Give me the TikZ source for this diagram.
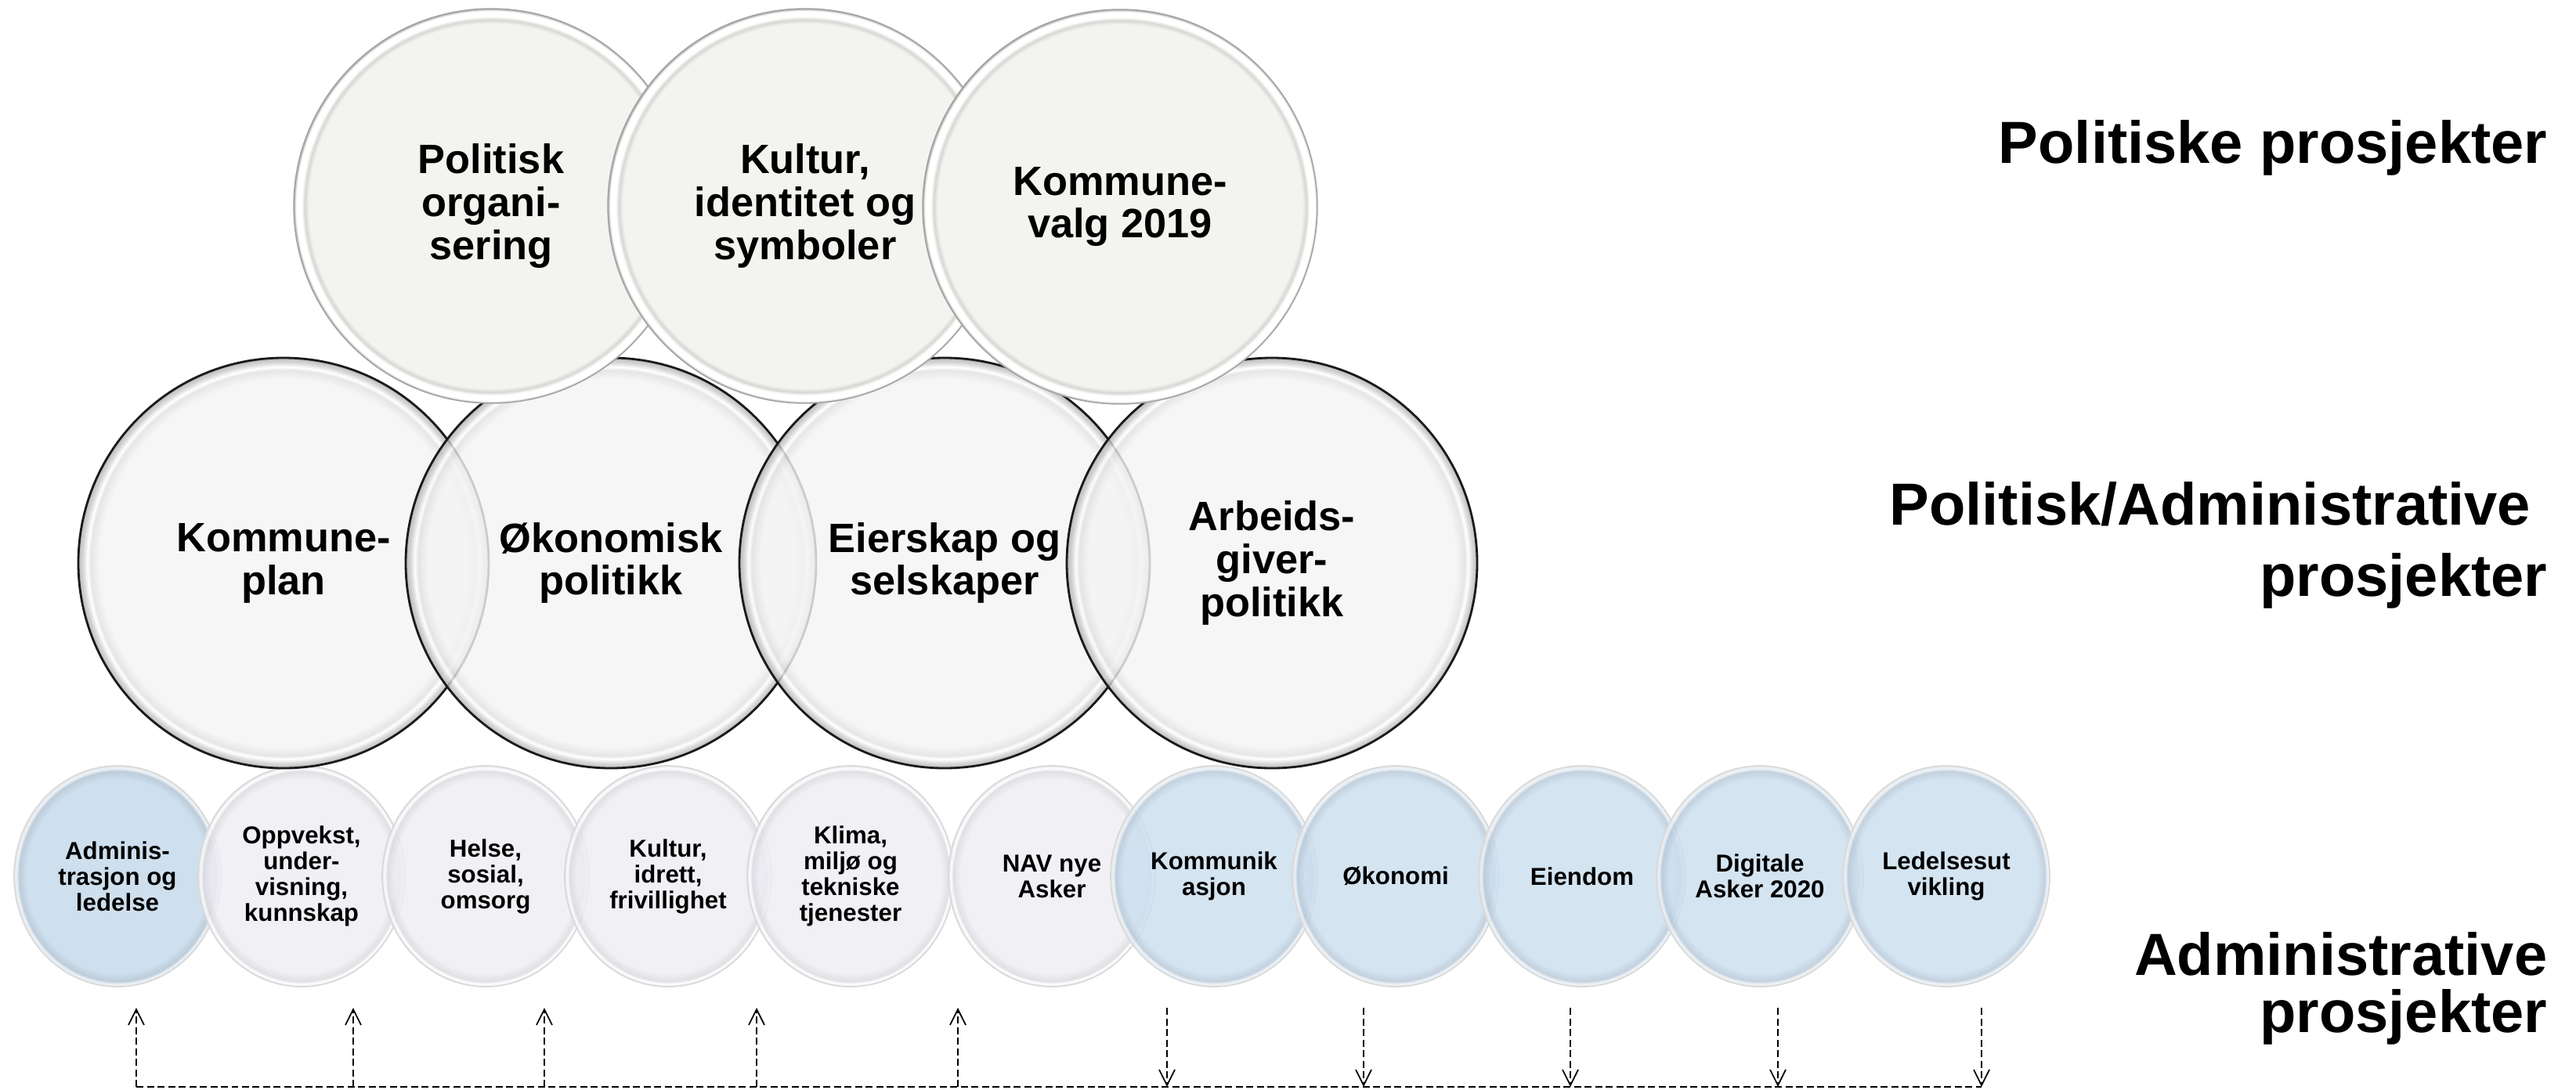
\documentclass[tikz,border=0pt]{standalone}
\usepackage{fontspec}
\setmainfont{Liberation Sans}
\usepackage{xcolor}
\usepackage{tikz}
\usetikzlibrary{shapes.geometric,arrows.meta}
\definecolor{topfill}{HTML}{F3F3EF}
\definecolor{topline}{HTML}{A2A2A2}
\definecolor{midfill}{HTML}{F4F4F4}
\definecolor{midline}{HTML}{1A1A1A}
\definecolor{admblue}{HTML}{C5D9EA}
\definecolor{paleblue}{HTML}{CDDFEF}
\definecolor{lilac}{HTML}{EEEDF3}
\definecolor{rim}{HTML}{FFFFFF}
\pgfdeclareradialshading{topglass}{\pgfpoint{0bp}{0bp}}{color(0bp)=(topfill); color(23.1bp)=(topfill); color(23.6bp)=(topfill!88!black); color(24.0bp)=(rim); color(24.7bp)=(rim); color(25bp)=(topline); color(50bp)=(topline)}
\pgfdeclareradialshading{midglass}{\pgfpoint{0bp}{0bp}}{color(0bp)=(midfill); color(22.4bp)=(midfill); color(23.5bp)=(midfill!92!black); color(23.9bp)=(rim); color(24.4bp)=(midfill!86!black); color(25bp)=(midfill!70!black); color(50bp)=(midline)}
\pgfdeclareradialshading{admglass}{\pgfpoint{0bp}{0bp}}{color(0bp)=(admblue); color(22bp)=(admblue); color(23.8bp)=(admblue!90!black); color(24.4bp)=(rim!60!admblue); color(25bp)=(rim!80!gray); color(50bp)=(rim!80!gray)}
\pgfdeclareradialshading{blueglass}{\pgfpoint{0bp}{0bp}}{color(0bp)=(paleblue); color(22bp)=(paleblue); color(23.8bp)=(paleblue!90!black); color(24.4bp)=(rim!60!paleblue); color(25bp)=(rim!80!gray); color(50bp)=(rim!80!gray)}
\pgfdeclareradialshading{lilacglass}{\pgfpoint{0bp}{0bp}}{color(0bp)=(lilac); color(22bp)=(lilac); color(23.8bp)=(lilac!92!black); color(24.4bp)=(rim); color(25bp)=(rim!80!gray); color(50bp)=(rim!80!gray)}
\tikzset{
  topball/.style={circle, minimum size=5.04cm, inner sep=0pt, shading=topglass, draw=topline, line width=0.4pt, align=center, font=\fontsize{14.9}{15.6}\selectfont\bfseries},
  midball/.style={circle, minimum size=5.24cm, inner sep=0pt, shading=midglass, draw=midline, line width=0.8pt, fill opacity=0.82, text opacity=1, align=center, font=\fontsize{14.9}{15.6}\selectfont\bfseries},
  egg/.style={ellipse, minimum width=2.64cm, minimum height=2.82cm, inner sep=0pt, draw=gray!30, line width=0.5pt, fill opacity=0.85, text opacity=1, align=center, font=\fontsize{8.9}{9.4}\selectfont\bfseries},
  admegg/.style={egg, shading=admglass},
  bluegg/.style={egg, shading=blueglass},
  lilegg/.style={egg, shading=lilacglass},
  side/.style={inner sep=0pt, align=right, font=\fontsize{21.6}{25.8}\selectfont\bfseries},
  link/.style={draw=black, line width=0.5pt, dash pattern=on 0.09cm off 0.045cm},
  tip/.style={link, -{Straight Barb[length=0.2cm,width=0.2cm]}},
}

\begin{document}
\begin{tikzpicture}
  \useasboundingbox (0,0) rectangle (32.89,-13.91);

  % administrative projects
  \node[admegg] (adm) at (1.50,-11.19) {Adminis-\\trasjon og\\ledelse};
  \node[lilegg] (opp) at (3.85,-11.19) {Oppvekst,\\under-\\visning,\\kunnskap};
  \node[lilegg] (hel) at (6.20,-11.19) {Helse,\\sosial,\\omsorg};
  \node[lilegg] (kid) at (8.53,-11.19) {Kultur,\\idrett,\\frivillighet};
  \node[lilegg] (kli) at (10.86,-11.19) {Klima,\\miljø og\\tekniske\\tjenester};
  \node[lilegg] (nav) at (13.43,-11.19) {NAV nye\\Asker};
  \node[bluegg] (kom) at (15.50,-11.19) {Kommunik\\asjon};
  \node[bluegg] (oko) at (17.82,-11.19) {Økonomi};
  \node[bluegg] (eie) at (20.20,-11.19) {Eiendom};
  \node[bluegg] (dig) at (22.47,-11.19) {Digitale\\Asker 2020};
  \node[bluegg] (led) at (24.85,-11.19) {Ledelsesut\\vikling};

  % political/administrative projects
  \node[midball] (kpl) at (3.62,-7.19) {Kommune-\\plan};
  \node[midball] (okp) at (7.80,-7.19) {Økonomisk\\politikk};
  \node[midball] (eis) at (12.06,-7.19) {Eierskap og\\selskaper};
  \node[midball] (arb) at (16.24,-7.19) {Arbeids-\\giver-\\politikk};

  % political projects
  \node[topball] (pol) at (6.27,-2.63) {Politisk\\organi-\\sering};
  \node[topball] (kul) at (10.28,-2.63) {Kultur,\\identitet og\\symboler};
  \node[topball] (val) at (14.30,-2.64) {Kommune-\\valg 2019};

  % level labels
  \node[side, anchor=base east] (lpol) at (32.53,-2.08) {Politiske prosjekter};
  \node[side, anchor=north east] (lmix) at (32.53,-6.15) {Politisk/Administrative\kern0.28em\\prosjekter};
  \node[side, anchor=north east, font=\fontsize{21.6}{20.8}\selectfont\bfseries] (ladm) at (32.53,-11.90) {Administrative\\prosjekter};

  % feedback line
  \coordinate (bu1) at (1.74,-13.88);  \coordinate (tu1) at (1.74,-12.87);
  \coordinate (bu2) at (4.51,-13.88);  \coordinate (tu2) at (4.51,-12.87);
  \coordinate (bu3) at (6.95,-13.88);  \coordinate (tu3) at (6.95,-12.87);
  \coordinate (bu4) at (9.66,-13.88);  \coordinate (tu4) at (9.66,-12.87);
  \coordinate (bu5) at (12.23,-13.88); \coordinate (tu5) at (12.23,-12.87);
  \coordinate (td1) at (14.90,-12.87); \coordinate (bd1) at (14.90,-13.88);
  \coordinate (td2) at (17.41,-12.87); \coordinate (bd2) at (17.41,-13.88);
  \coordinate (td3) at (20.05,-12.87); \coordinate (bd3) at (20.05,-13.88);
  \coordinate (td4) at (22.70,-12.87); \coordinate (bd4) at (22.70,-13.88);
  \coordinate (td5) at (25.30,-12.87); \coordinate (bd5) at (25.30,-13.88);

  \draw[link] (bu1) -- (bd5);
  \draw[tip] (bu1) -- (tu1);
  \draw[tip] (bu2) -- (tu2);
  \draw[tip] (bu3) -- (tu3);
  \draw[tip] (bu4) -- (tu4);
  \draw[tip] (bu5) -- (tu5);
  \draw[tip] (td1) -- (bd1);
  \draw[tip] (td2) -- (bd2);
  \draw[tip] (td3) -- (bd3);
  \draw[tip] (td4) -- (bd4);
  \draw[tip] (td5) -- (bd5);
\end{tikzpicture}
\end{document}
